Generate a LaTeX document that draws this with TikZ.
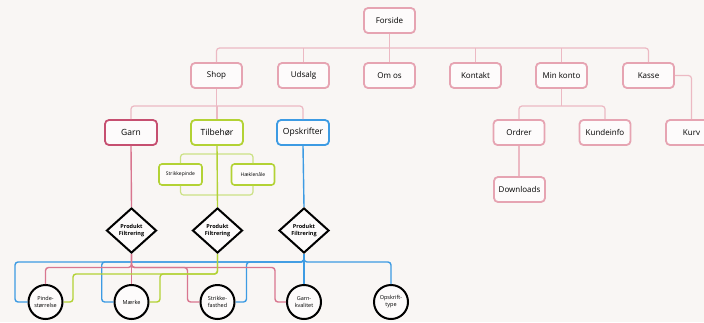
\documentclass[tikz,border=0pt]{standalone}
\usepackage{fontspec}
\setmainfont{Open Sans}
\usetikzlibrary{shapes.geometric}
\definecolor{bg}{HTML}{F9F6F4}
\definecolor{boxpink}{HTML}{E6A4B2}
\definecolor{linepink}{HTML}{ECB9C3}
\definecolor{boxfill}{HTML}{FDFBFB}
\definecolor{garnred}{HTML}{C64F70}
\definecolor{limegreen}{HTML}{B3D235}
\definecolor{lightgreen}{HTML}{CBE184}
\definecolor{skyblue}{HTML}{3D9BE3}
\definecolor{busred}{HTML}{D9768F}
\begin{document}
\begin{tikzpicture}[x=1pt,y=-1pt,
  pbox/.style={draw=boxpink,line width=1.8pt,rounded corners=4pt,fill=boxfill,
    minimum width=51pt,minimum height=25pt,inner sep=0pt,font=\fontsize{8}{9}\selectfont},
  cbox/.style={pbox,minimum width=52pt,font=\fontsize{8.5}{9}\selectfont},
  sbox/.style={draw=limegreen,line width=1.6pt,rounded corners=3pt,fill=boxfill,
    minimum width=43pt,minimum height=21pt,inner sep=0pt,font=\fontsize{5}{6}\selectfont},
  dia/.style={diamond,draw=black,line width=2pt,fill=boxfill,minimum width=50pt,
    minimum height=45pt,inner sep=0pt,align=center,font=\bfseries\fontsize{5.5}{7}\selectfont},
  circ/.style={circle,draw=black,line width=2pt,fill=boxfill,minimum size=34pt,
    inner sep=0pt,align=center,font=\fontsize{5.5}{7}\selectfont},
  pline/.style={draw=linepink,line width=1.2pt,rounded corners=3pt},
  gline/.style={draw=lightgreen,line width=1.2pt,rounded corners=3pt},
  bl/.style={draw=skyblue,line width=1.4pt,rounded corners=3pt},
  rl/.style={draw=busred,line width=1.4pt,rounded corners=3pt},
  gl/.style={draw=limegreen,line width=1.4pt,rounded corners=3pt}]
\useasboundingbox (0,0) rectangle (704,322);
\fill[bg] (0,0) rectangle (704,322);
\clip (0,0) rectangle (704,322);
% top tree
\node[pbox] (fors) at (389.5,20.5) {Forside};
\node[pbox] (shop) at (216.5,75.5) {Shop};
\node[pbox] (uds) at (303.5,75.5) {Udsalg};
\node[pbox] (om) at (389.5,75.5) {Om os};
\node[pbox] (kon) at (475.5,75.5) {Kontakt};
\node[pbox] (min) at (561.5,75.5) {Min konto};
\node[pbox] (kas) at (648.5,75.5) {Kasse};
\node[cbox,draw=garnred] (garn) at (131,132.5) {Garn};
\node[cbox,draw=limegreen] (tilb) at (217,132.5) {Tilbehør};
\node[cbox,draw=skyblue] (opsk) at (303,132.5) {Opskrifter};
\node[pbox] (ord) at (519,132.5) {Ordrer};
\node[pbox] (kund) at (605,132.5) {Kundeinfo};
\node[pbox] (kurv) at (691.5,132.5) {Kurv};
\node[pbox] (down) at (519.5,189.5) {Downloads};
\node[sbox] (spin) at (180.5,174.5) {Strikkepinde};
\node[sbox] (hakl) at (253,174.5) {Hæklenåle};
\coordinate (bus1) at (0,48);
\coordinate (bus2) at (0,106);
\coordinate (gtop) at (0,154);
\coordinate (gbot) at (0,195);
% Forside bus
\draw[pline] (shop.north) |- (kas.north |- bus1) -- (kas.north);
\draw[pline] (fors.south) -- (fors.south |- bus1);
\foreach \c in {uds,om,kon,min}
  \draw[pline] (\c.north) -- (\c.north |- bus1);
% Shop bus
\draw[pline] (garn.north) |- (opsk.north |- bus2) -- (opsk.north);
\draw[pline] (shop.south) -- (shop.south |- bus2);
\draw[pline] (tilb.north) -- (tilb.north |- bus2);
% Min konto bus
\draw[pline] (ord.north) |- (kund.north |- bus2) -- (kund.north);
\draw[pline] (min.south) -- (min.south |- bus2);
\draw[pline] (ord.south) -- (down.north -| ord.south);
\draw[pline] (kas.east) -| (kurv.north);
% accessories
\draw[gline] (spin.north) |- (hakl.north |- gtop) -- (hakl.north);
\draw[gline] (spin.south) |- (hakl.south |- gbot) -- (hakl.south);
% diamonds
\node[dia] (d1) at (131.5,230.5) {Produkt\\Filtrering};
\node[dia] (d2) at (217.5,230.5) {Produkt\\Filtrering};
\node[dia] (d3) at (304,230.5) {Produkt\\Filtrering};
\draw[rl] (garn.south) -- (d1.north);
\draw[gl] (tilb.south) -- (d2.north);
\draw[bl] (opsk.south) -- (d3.north);
% circles
\node[circ] (c1) at (45.5,302) {Pinde-\\størrelse};
\node[circ] (c2) at (131.5,302) {Mærke};
\node[circ] (c3) at (217.5,302) {Strikke-\\fasthed};
\node[circ] (c4) at (304,302) {Garn-\\kvalitet};
\node[circ] (c5) at (391,302) {Opskrift-\\type};
\coordinate (b1) at (15,262);
\coordinate (b2) at (101.7,262);
\coordinate (b3) at (246.5,262);
\coordinate (r1) at (45.5,267.5);
\coordinate (r3) at (187.5,267.5);
\coordinate (r4) at (275,267.5);
\coordinate (g1) at (73,274);
\coordinate (g2) at (160,274);
% blue
\draw[bl] (d3.south) |- (b1) |- (c1.west);
\draw[bl] (d3.south) |- (b2) |- (c2.west);
\draw[bl] (d3.south) |- (b3) |- (c3.east);
\draw[bl] (d3.south) -- (c4.north);
\draw[bl] (d3.south) |- (b1 -| c5.north) -- (c5.north);
% pink
\draw[rl] (d1.south) |- (r1) -- (c1.north);
\draw[rl] (d1.south) -- (c2.north);
\draw[rl] (d1.south) |- (r3) |- (c3.west);
\draw[rl] (d1.south) |- (r4) |- (c4.west);
% green
\draw[gl] (d2.south) |- (g1) |- (c1.east);
\draw[gl] (d2.south) |- (g2) |- (c2.east);
\end{tikzpicture}
\end{document}
